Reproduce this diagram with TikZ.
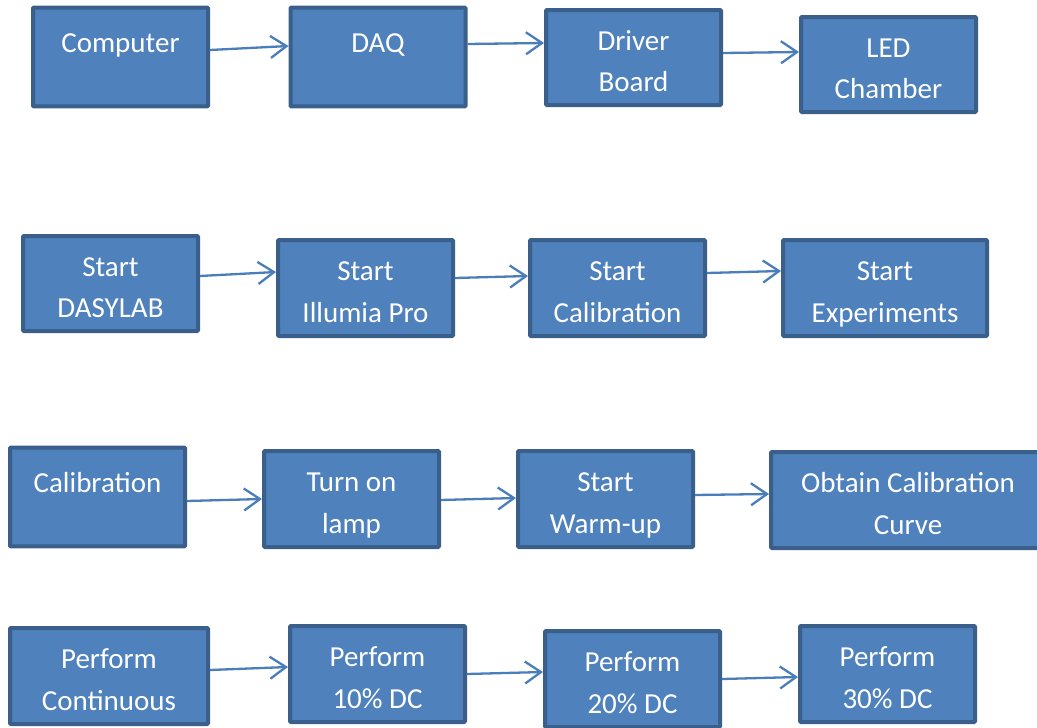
\documentclass[tikz,border=0pt]{standalone}
\usepackage{fontspec}
\setmainfont{Carlito}
\usetikzlibrary{arrows.meta,calc}
\definecolor{boxfill}{HTML}{4F81BD}
\definecolor{boxline}{HTML}{3A5F8B}
\definecolor{arrowcol}{HTML}{4A7EBB}
\newcommand\firstline{\rule{0pt}{39.5pt}}
\newcommand\onlyline{\rule{0pt}{45pt}}
\begin{document}
\begin{tikzpicture}[x=1pt,y=-1pt,
  box/.style={draw=boxline, fill=boxfill, line width=4pt, rounded corners=1pt,
    minimum width=175pt, minimum height=96pt, inner sep=0pt, outer sep=0pt,
    text=white, align=center, font=\fontsize{29}{41.5}\selectfont},
  conn/.style={draw=arrowcol, line width=2.3pt,
    -{Straight Barb[length=16pt,width=22pt,line width=2.3pt]}}]
\path[use as bounding box, clip] (0,0) rectangle (1037,728);
% row 1
\node[box] (comp) at (120.5,57) {\onlyline Computer\\\strut};
\node[box, minimum height=94pt] (daq) at (378,57) {\onlyline DAQ\\\strut};
\node[box, minimum height=95pt] (drv) at (633.5,57.5) {\firstline Driver\\\strut Board};
\node[box, minimum height=95pt] (led) at (888.5,64.5) {\firstline LED\\\strut Chamber};
% row 2
\node[box, minimum height=95pt] (dasy) at (110.5,283.5) {\firstline Start\\\strut DASYLAB};
\node[box] (illu) at (365.5,288) {\firstline Start\\\strut Illumia Pro};
\node[box] (scal) at (617.5,288) {\firstline Start\\\strut Calibration};
\node[box, minimum width=204pt] (sexp) at (885,288) {\firstline Start\\\strut Experiments};
% row 3
\node[box] (cal) at (97.5,497) {\onlyline Calibration\\\strut};
\node[box] (lamp) at (351.5,499) {\firstline Turn on\\\strut lamp};
\node[box] (warm) at (605.5,499) {\firstline Start\\\strut Warm-up};
\node[box, minimum width=274pt] (obt) at (908,500) {\firstline Obtain Calibration\\\strut Curve};
% row 4
\node[box, minimum width=198pt] (cont) at (109,676) {\firstline Perform\\\strut Continuous};
\node[box] (p10) at (377.5,674) {\firstline Perform\\\strut 10\% DC};
\node[box] (p20) at (632.5,679) {\firstline Perform\\\strut 20\% DC};
\node[box] (p30) at (887.5,674) {\firstline Perform\\\strut 30\% DC};
% connectors row 1
\draw[conn] ($(comp.east)+(2,-7)$) -- ($(daq.west)+(-2,-11)$);
\draw[conn] ($(daq.east)+(2,-13)$) -- ($(drv.west)+(-2,-14.5)$);
\draw[conn] ($(drv.east)+(2,-4.5)$) -- ($(led.west)+(-2,-12.5)$);
% row 2
\draw[conn] ($(dasy.east)+(2,-7.5)$) -- ($(illu.west)+(-2,-16)$);
\draw[conn] ($(illu.east)+(2,-10)$) -- ($(scal.west)+(-2,-12)$);
\draw[conn] ($(scal.east)+(2,-15)$) -- ($(sexp.west)+(-2,-17)$);
% row 3
\draw[conn] ($(cal.east)+(2,4)$) -- ($(lamp.west)+(-2,0)$);
\draw[conn] ($(lamp.east)+(2,1)$) -- ($(warm.west)+(-2,-1)$);
\draw[conn] ($(warm.east)+(2,-4)$) -- ($(obt.west)+(-2,-6)$);
% row 4
\draw[conn] ($(cont.east)+(2,-6)$) -- ($(p10.west)+(-2,-7)$);
\draw[conn] ($(p10.east)+(2,0)$) -- ($(p20.west)+(-2,-7)$);
\draw[conn] ($(p20.east)+(2,0)$) -- ($(p30.west)+(-2,3)$);
\end{tikzpicture}
\end{document}
